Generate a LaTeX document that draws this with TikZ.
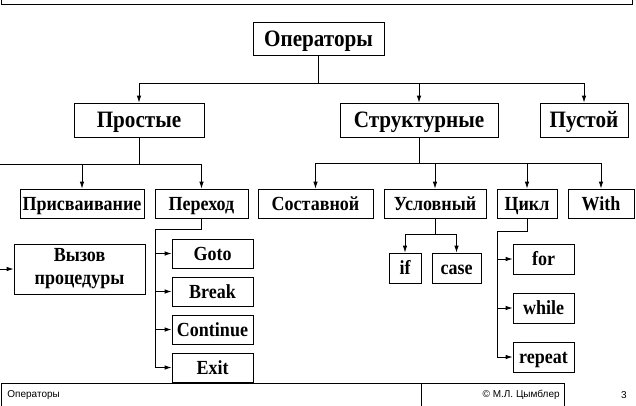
\documentclass[tikz,border=0pt]{standalone}
\usepackage{fontspec}
\setmainfont{Liberation Serif}[FakeStretch=0.9]
\setsansfont{Liberation Sans}
\usetikzlibrary{arrows.meta}

\tikzset{bloc/.style = {draw, rectangle, inner sep=0pt, align=center,
                        font=\bfseries\fontsize{#1}{23}\selectfont},
         bloc/.default=20,
         ligne/.style = {text height=#1, text depth=0pt},
         ligne/.default=13.2pt,
         fleche/.style = {-{Latex[length=7pt,width=4.5pt]}},
         pied/.style = {inner sep=0pt, font=\sffamily\fontsize{10}{12}\selectfont}
        }

\begin{document}
\begin{tikzpicture}[x=1pt, y=-1pt, line width=0.8pt]
  \useasboundingbox (0,0) rectangle (636,405);
  \draw (1,-5) rectangle (632,4);
  \draw (1,383) rectangle (564,410);
  \draw (421,383) -- (421,410);
  \node[pied, anchor=west] (titre) at (7,395) {Операторы};
  \node[pied, anchor=east] (auteur) at (560,395) {© М.Л. Цымблер};
  \node[pied] (page) at (624,395) {3};

  \node[bloc=23.5, ligne=15.5pt, minimum width=131pt, minimum height=33pt] (oper) at (318.5,38.5) {Операторы};
  \node[bloc=23.5, ligne=15.5pt, minimum width=130pt, minimum height=34pt] (prost) at (139,120) {Простые};
  \node[bloc=23.5, ligne=15.5pt, minimum width=158pt, minimum height=34pt] (struct) at (419,120) {Структурные};
  \node[bloc=23.5, ligne=15.5pt, minimum width=88pt, minimum height=34pt] (pust) at (584,120) {Пустой};

  \node[bloc, ligne, minimum width=124pt, minimum height=29pt] (prisv) at (82,203.5) {Присваивание};
  \node[bloc, ligne, minimum width=93pt, minimum height=29pt] (perehod) at (201.5,203.5) {Переход};
  \node[bloc, ligne, minimum width=115pt, minimum height=29pt] (sostav) at (315.5,203.5) {Составной};
  \node[bloc, ligne, minimum width=102pt, minimum height=29pt] (uslov) at (435,203.5) {Условный};
  \node[bloc, ligne, minimum width=60pt, minimum height=29pt] (cikl) at (527,203.5) {Цикл};
  \node[bloc, ligne, minimum width=66pt, minimum height=29pt] (with) at (601,203.5) {With};

  \node[bloc, minimum width=131pt, minimum height=50pt] (vyzov) at (79.5,269) {Вызов\\процедуры};
  \node[bloc, ligne, minimum width=81pt, minimum height=29pt] (goto) at (212.5,253.5) {Goto};
  \node[bloc, ligne, minimum width=81pt, minimum height=29pt] (break) at (212.5,291.5) {Break};
  \node[bloc, ligne, minimum width=81pt, minimum height=29pt] (continue) at (212.5,329.5) {Continue};
  \node[bloc, ligne, minimum width=81pt, minimum height=29pt] (exit) at (212.5,367.5) {Exit};
  \node[bloc, ligne, minimum width=32pt, minimum height=30pt] (if) at (405,268) {if};
  \node[bloc, ligne, minimum width=49pt, minimum height=30pt] (case) at (456.5,268) {case};
  \node[bloc, ligne, minimum width=61pt, minimum height=30pt] (for) at (543.5,259) {for};
  \node[bloc, ligne, minimum width=61pt, minimum height=30pt] (while) at (543.5,308) {while};
  \node[bloc, ligne, minimum width=61pt, minimum height=30pt] (repeat) at (543.5,357) {repeat};

  \coordinate (b1) at (318.5,83);
  \draw (oper) -- (b1);
  \foreach \n in {prost,struct,pust}
    \draw[fleche] (b1) -| (\n);

  \coordinate (b2) at (139,164);
  \coordinate (b2g) at (-5,164);
  \draw (prost) -- (b2) -- (b2g);
  \draw[fleche] (b2g) |- (vyzov);
  \foreach \n in {prisv,perehod}
    \draw[fleche] (b2) -| (\n);

  \coordinate (b3) at (419,163);
  \draw (struct) -- (b3);
  \foreach \n in {sostav,uslov,cikl,with}
    \draw[fleche] (b3) -| (\n);

  \coordinate (b4) at (155,229);
  \draw (perehod) |- (b4) -- (b4 |- exit);
  \foreach \n in {goto,break,continue,exit}
    \draw[fleche] (b4 |- \n) -- (\n);

  \coordinate (b5) at (435,234);
  \draw (uslov) -- (b5);
  \foreach \n in {if,case}
    \draw[fleche] (b5) -| (\n);

  \coordinate (b6) at (497,231);
  \draw (cikl) |- (b6) -- (b6 |- repeat);
  \foreach \n in {for,while,repeat}
    \draw[fleche] (b6 |- \n) -- (\n);
\end{tikzpicture}
\end{document}
